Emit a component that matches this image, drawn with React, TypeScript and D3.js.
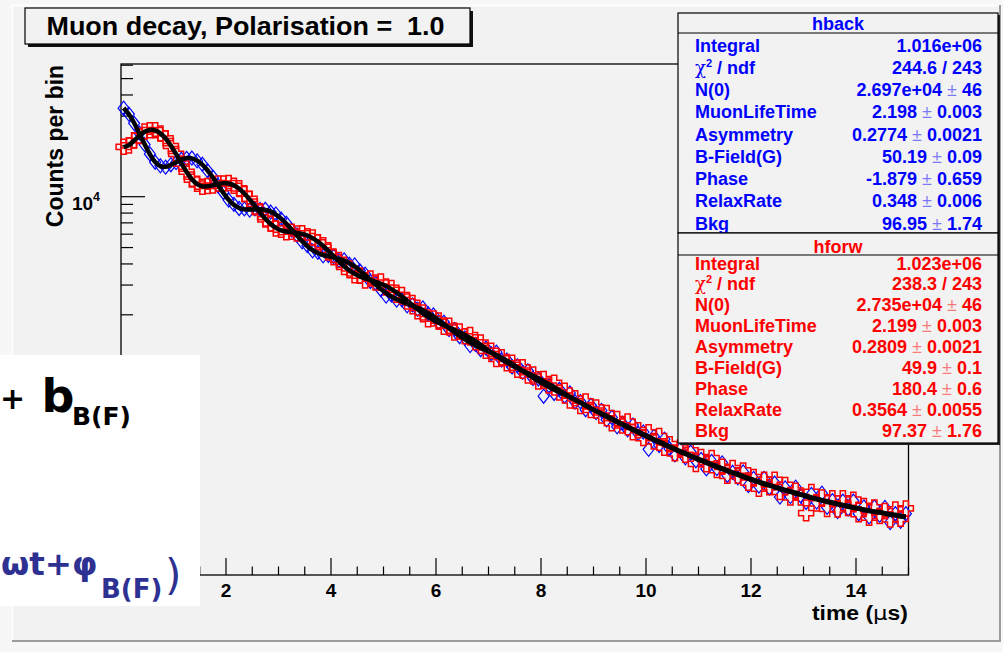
import React from "react";
import * as d3 from "d3";

const W = 1003;
const H = 652;
const FL = 121;
const FR = 908.5;
const FT = 64;
const FB = 575;
const OVERLAY_TOP = 355;

// histogram bin contents (counts per bin), bins of 0.1 us from 0 to 15 us
const backData = [33420, 30850, 27190, 23800, 20350, 17900, 16000, 15240, 14960, 15470, 15930, 16650, 16850, 16930, 16290, 15550, 14230, 13060, 11620, 10590, 9550, 9010, 8520, 8470, 8340, 8480, 8390, 8420, 8110, 7900, 7370, 6960, 6350, 5940, 5410, 5140, 4780, 4690, 4470, 4490, 4430, 4200, 4225, 3980, 3945, 3645, 3480, 3150, 3070, 2815, 2580, 2620, 2445, 2455, 2260, 2290, 2160, 2195, 2030, 1995, 1805, 1808, 1635, 1635, 1485, 1459, 1315, 1339, 1243, 1271, 1177, 1201, 1080, 1080, 983, 998, 913, 933, 840, 835, 660, 763, 685, 725, 660, 690, 610, 613, 549, 583, 528, 543, 478, 494, 435, 456, 418, 445, 398, 405, 320, 381, 337, 367, 322, 297, 318, 285, 308, 274, 279, 245, 271, 246, 266, 224, 234, 217, 235, 195, 215, 194, 215, 189, 202, 167, 189, 168, 191, 169, 155, 173, 156, 176, 145, 159, 137, 158, 142, 158, 133, 146, 127, 146, 130, 145, 118, 133, 120, 133];
const forwData = [19720, 20110, 21570, 22890, 24290, 24750, 24760, 23630, 22180, 19960, 17920, 15690, 14050, 12620, 11950, 11470, 11580, 11630, 11980, 11960, 12040, 11600, 11210, 10380, 9700, 8760, 8100, 7340, 6940, 6490, 6380, 6170, 6210, 6060, 6080, 5840, 5740, 5370, 5160, 4730, 4380, 4225, 3841, 3758, 3431, 3413, 3188, 3275, 3106, 3146, 2898, 2884, 2629, 2620, 2400, 2353, 2101, 2061, 1885, 1899, 1848, 1701, 1725, 1574, 1594, 1491, 1518, 1374, 1369, 1225, 1225, 1096, 1123, 1033, 1042, 946, 979, 874, 888, 807, 834, 762, 792, 694, 711, 622, 641, 578, 614, 547, 566, 507, 524, 457, 483, 443, 467, 404, 415, 373, 403, 356, 383, 327, 343, 303, 328, 297, 315, 262, 288, 261, 284, 241, 252, 223, 248, 223, 240, 203, 219, 187, 211, 191, 211, 179, 197, 166, 182, 166, 134, 179, 153, 166, 142, 164, 141, 164, 144, 161, 132, 148, 126, 145, 129, 138, 123, 141, 124, 143];

// fitted curves at the same bin centres
const backFit = [33530, 30730, 27288, 23703, 20434, 17824, 16064, 15176, 15030, 15405, 16004, 16583, 16919, 16852, 16359, 15473, 14301, 12988, 11685, 10527, 9603, 8953, 8574, 8414, 8393, 8425, 8436, 8361, 8165, 7844, 7415, 6917, 6396, 5896, 5455, 5095, 4826, 4641, 4519, 4437, 4369, 4290, 4183, 4042, 3866, 3663, 3446, 3228, 3024, 2843, 2690, 2567, 2471, 2394, 2329, 2267, 2202, 2130, 2048, 1957, 1861, 1764, 1668, 1579, 1499, 1430, 1370, 1319, 1275, 1234, 1195, 1155, 1113, 1069, 1024, 978, 932, 889, 848, 811, 778, 748, 721, 697, 674, 651, 629, 607, 584, 561, 539, 517, 498, 480, 463, 447, 431, 416, 402, 389, 376, 363, 351, 340, 329, 319, 309, 300, 291, 282, 274, 266, 258, 251, 244, 238, 232, 226, 220, 214, 209, 204, 199, 195, 191, 186, 182, 179, 175, 172, 168, 165, 162, 159, 156, 154, 151, 149, 146, 144, 142, 140, 138, 136, 135, 133, 131, 130, 128, 127];
const forwFit = [19631, 20204, 21491, 22979, 24205, 24830, 24670, 23713, 22095, 20041, 17849, 15759, 13988, 12691, 11883, 11528, 11514, 11693, 11910, 12032, 11967, 11671, 11148, 10443, 9639, 8817, 8046, 7395, 6890, 6542, 6330, 6218, 6159, 6108, 6026, 5889, 5684, 5420, 5110, 4777, 4447, 4142, 3880, 3666, 3501, 3379, 3287, 3211, 3137, 3054, 2957, 2841, 2710, 2569, 2424, 2284, 2155, 2041, 1943, 1862, 1794, 1736, 1683, 1631, 1578, 1521, 1460, 1395, 1329, 1263, 1201, 1142, 1090, 1043, 1002, 965, 932, 901, 871, 841, 810, 778, 747, 715, 684, 655, 628, 602, 579, 558, 539, 523, 504, 486, 469, 452, 436, 421, 407, 393, 380, 367, 355, 344, 333, 322, 312, 303, 294, 285, 277, 269, 261, 254, 247, 240, 234, 228, 222, 216, 211, 206, 201, 197, 192, 188, 184, 180, 177, 173, 170, 166, 163, 160, 158, 155, 152, 150, 148, 145, 143, 141, 139, 137, 136, 134, 132, 131, 129, 128];

const xTickLabels = [2, 4, 6, 8, 10, 12, 14];
const xDomain = [0, 15];
const yDomain = [57.7, 61000];

const backRows: [string, string][] = [
  ["Integral", "1.016e+06"],
  ["chi2", "244.6 / 243"],
  ["N(0)", "2.697e+04 ± 46"],
  ["MuonLifeTime", "2.198 ± 0.003"],
  ["Asymmetry", "0.2774 ± 0.0021"],
  ["B-Field(G)", "50.19 ± 0.09"],
  ["Phase", "-1.879 ± 0.659"],
  ["RelaxRate", "0.348 ± 0.006"],
  ["Bkg", "96.95 ± 1.74"],
];
const forwRows: [string, string][] = [
  ["Integral", "1.023e+06"],
  ["chi2", "238.3 / 243"],
  ["N(0)", "2.735e+04 ± 46"],
  ["MuonLifeTime", "2.199 ± 0.003"],
  ["Asymmetry", "0.2809 ± 0.0021"],
  ["B-Field(G)", "49.9 ± 0.1"],
  ["Phase", "180.4 ± 0.6"],
  ["RelaxRate", "0.3564 ± 0.0055"],
  ["Bkg", "97.37 ± 1.76"],
];

const FONT = "'Liberation Sans', Arial, Helvetica, sans-serif";

function Value({ v }: { v: string }) {
  const parts = v.split(" ± ");
  if (parts.length === 1) return <>{v}</>;
  return (
    <>
      <tspan>{parts[0] + " "}</tspan>
      <tspan fontWeight="normal" fillOpacity={0.5}>±</tspan>
      <tspan>{" " + parts[1]}</tspan>
    </>
  );
}

function Label({ l }: { l: string }) {
  if (l !== "chi2") return <>{l}</>;
  return (
    <>
      <tspan fontWeight="normal" fontFamily="'DejaVu Serif', serif">χ</tspan>
      <tspan fontSize={11} dy={-7}>2</tspan>
      <tspan dy={7}>{" / ndf"}</tspan>
    </>
  );
}

function StatBox(props: {
  y0: number; y1: number; divider: number; titleY: number; title: string;
  rows: [string, string][]; color: string; firstRow: number; gap: number;
}) {
  const { y0, y1, divider, titleY, title, rows, color, firstRow, gap } = props;
  const x0 = 678, x1 = 998;
  return (
    <g fontFamily={FONT} fontWeight="bold" fontSize={18} fill={color}>
      <rect x={x0 + 2} y={y0 + 2} width={x1 - x0} height={y1 - y0} fill="#222" />
      <rect x={x0} y={y0} width={x1 - x0} height={y1 - y0} fill="#f2f2f2" stroke="#000" strokeWidth={1.2} />
      <line x1={x0} x2={x1} y1={divider} y2={divider} stroke="#000" strokeWidth={1.2} />
      <text x={(x0 + x1) / 2} y={titleY} textAnchor="middle">{title}</text>
      {rows.map((r, i) => {
        const cy = firstRow + i * gap + 6.5;
        return (
          <g key={i}>
            <text x={695} y={cy}><Label l={r[0]} /></text>
            <text x={982} y={cy} textAnchor="end" xmlSpace="preserve"><Value v={r[1]} /></text>
          </g>
        );
      })}
    </g>
  );
}

export default function App() {
  const x = d3.scaleLinear().domain(xDomain).range([FL, FR]);
  const y = d3.scaleLog().domain(yDomain).range([FB, FT]);
  const t = d3.range(backData.length).map((i) => 0.05 + 0.1 * i);

  const line = d3
    .line<number>()
    .x((_, i) => x(t[i]))
    .y((d) => y(d))
    .curve(d3.curveCatmullRom);

  const yTicks = y.ticks();
  const isMajor = (v: number) => Math.abs(Math.log10(v) - Math.round(Math.log10(v))) < 1e-9;
  // decade labels that are not hidden by the pasted white panel
  const yLabelVals = yTicks.filter((v) => isMajor(v) && y(v) < OVERLAY_TOP - 10);
  const xTicks = d3.range(0, 15.0001, 0.5);

  const diamond = "M0,-7L5.5,0L0,7L-5.5,0Z";
  const a = 2.6, b = 7.5;
  const cross = `M${-a},${-b}L${a},${-b}L${a},${-a}L${b},${-a}L${b},${a}L${a},${a}L${a},${b}L${-a},${b}L${-a},${a}L${-b},${a}L${-b},${-a}L${-a},${-a}Z`;

  return (
    <div style={{ position: "absolute", left: 0, top: 0 }}>
      <svg width={W} height={H} viewBox={`0 0 ${W} ${H}`} style={{ display: "block" }}>
        <rect x={0} y={0} width={W} height={H} fill="#f7f7f7" />
        <rect x={12} y={5} width={988} height={636} fill="#f2f2f2" />
        <line x1={12} x2={1000} y1={5.5} y2={5.5} stroke="#ffffff" strokeWidth={1.5} />
        <line x1={12.5} x2={12.5} y1={5} y2={641} stroke="#ffffff" strokeWidth={1.5} />
        <line x1={12} x2={1001} y1={641} y2={641} stroke="#9c9c9c" strokeWidth={2} />
        <line x1={1000} x2={1000} y1={5} y2={642} stroke="#9c9c9c" strokeWidth={2} />

        {/* title box */}
        <rect x={28} y={11} width={445} height={36} fill="#111" />
        <rect x={25} y={8} width={445} height={36} fill="#f2f2f2" stroke="#000" strokeWidth={1.2} />
        <text x={46.5} y={35} fontFamily={FONT} fontWeight="bold" fontSize={26.5} xmlSpace="preserve"
          textLength={398} lengthAdjust="spacingAndGlyphs">
          Muon decay, Polarisation =  1.0
        </text>

        {/* frame */}
        <rect x={FL} y={FT} width={FR - FL} height={FB - FT} fill="none" stroke="#000" strokeWidth={1.3} />

        {/* y axis ticks */}
        {yTicks.map((v, i) => {
          const yy = y(v);
          if (yy < FT - 0.5 || yy > FB + 0.5) return null;
          const len = isMajor(v) ? 24 : 12;
          return <line key={i} x1={FL} x2={FL + len} y1={yy} y2={yy} stroke="#000" strokeWidth={1.2} />;
        })}
        {yLabelVals.map((v, i) => (
          <text key={i} x={100} y={y(v) + 13} textAnchor="end" fontFamily={FONT} fontWeight="bold" fontSize={19}>
            10<tspan fontSize={12.5} dy={-9}>{Math.round(Math.log10(v))}</tspan>
          </text>
        ))}

        {/* x axis ticks */}
        {xTicks.map((v, i) => {
          const major = Math.abs(v / 2 - Math.round(v / 2)) < 1e-9;
          const len = major ? 17 : 8.5;
          return <line key={i} x1={x(v)} x2={x(v)} y1={FB} y2={FB - len} stroke="#000" strokeWidth={1.2} />;
        })}
        {xTickLabels.map((v) => (
          <text key={v} x={x(v)} y={597} textAnchor="middle" fontFamily={FONT} fontWeight="bold" fontSize={19}>
            {v}
          </text>
        ))}
        <text x={908} y={620} textAnchor="end" fontFamily={FONT} fontWeight="bold" fontSize={20}
          textLength={96} lengthAdjust="spacingAndGlyphs">
          time (<tspan fontWeight="normal" fontFamily="'DejaVu Sans', sans-serif">μ</tspan>s)
        </text>
        <text
          transform="translate(63,146) rotate(-90)"
          textAnchor="middle"
          fontFamily={FONT}
          fontWeight="bold"
          fontSize={23}
        >
          Counts per bin
        </text>

        {/* data markers */}
        <g fill="none" stroke="#0000ff" strokeWidth={1.2}>
          {backData.map((d, i) => (
            <path key={i} d={diamond} transform={`translate(${x(t[i])},${y(d)})`} />
          ))}
        </g>
        <g fill="none" stroke="#ff0000" strokeWidth={1.5}>
          {forwData.map((d, i) => (
            <path key={i} d={cross} transform={`translate(${x(t[i])},${y(d)})`} />
          ))}
        </g>

        {/* fits */}
        <path d={line(backFit) || ""} fill="none" stroke="#000" strokeWidth={4.5} />
        <path d={line(forwFit) || ""} fill="none" stroke="#000" strokeWidth={4.5} />

        {/* stat boxes */}
        <StatBox y0={13} y1={233} divider={33} titleY={29.5} title="hback" rows={backRows}
          color="#0000ff" firstRow={45} gap={22.25} />
        <StatBox y0={233} y1={443} divider={255} titleY={252.5} title="hforw" rows={forwRows}
          color="#ff0000" firstRow={263} gap={20.875} />

        {/* pasted formula fragment */}
        <rect x={0} y={OVERLAY_TOP} width={200} height={251} fill="#ffffff" />
        <text fontFamily="'DejaVu Sans', sans-serif" fontWeight="bold" fill="#000">
          <tspan x={0} y={409} fontSize={30}>+</tspan>
          <tspan x={41.5} y={412} fontSize={46}>b</tspan>
          <tspan x={72} y={425} fontSize={25}>B(F)</tspan>
        </text>
        <text fontFamily="'DejaVu Sans', sans-serif" fontWeight="bold" fill="#2e3192">
          <tspan x={1} y={575} fontSize={32.5}>ωt+φ</tspan>
          <tspan x={101} y={598} fontSize={26}>B(F)</tspan>
          <tspan x={165} y={590} fontSize={42} fontWeight="normal">)</tspan>
        </text>
      </svg>
    </div>
  );
}
